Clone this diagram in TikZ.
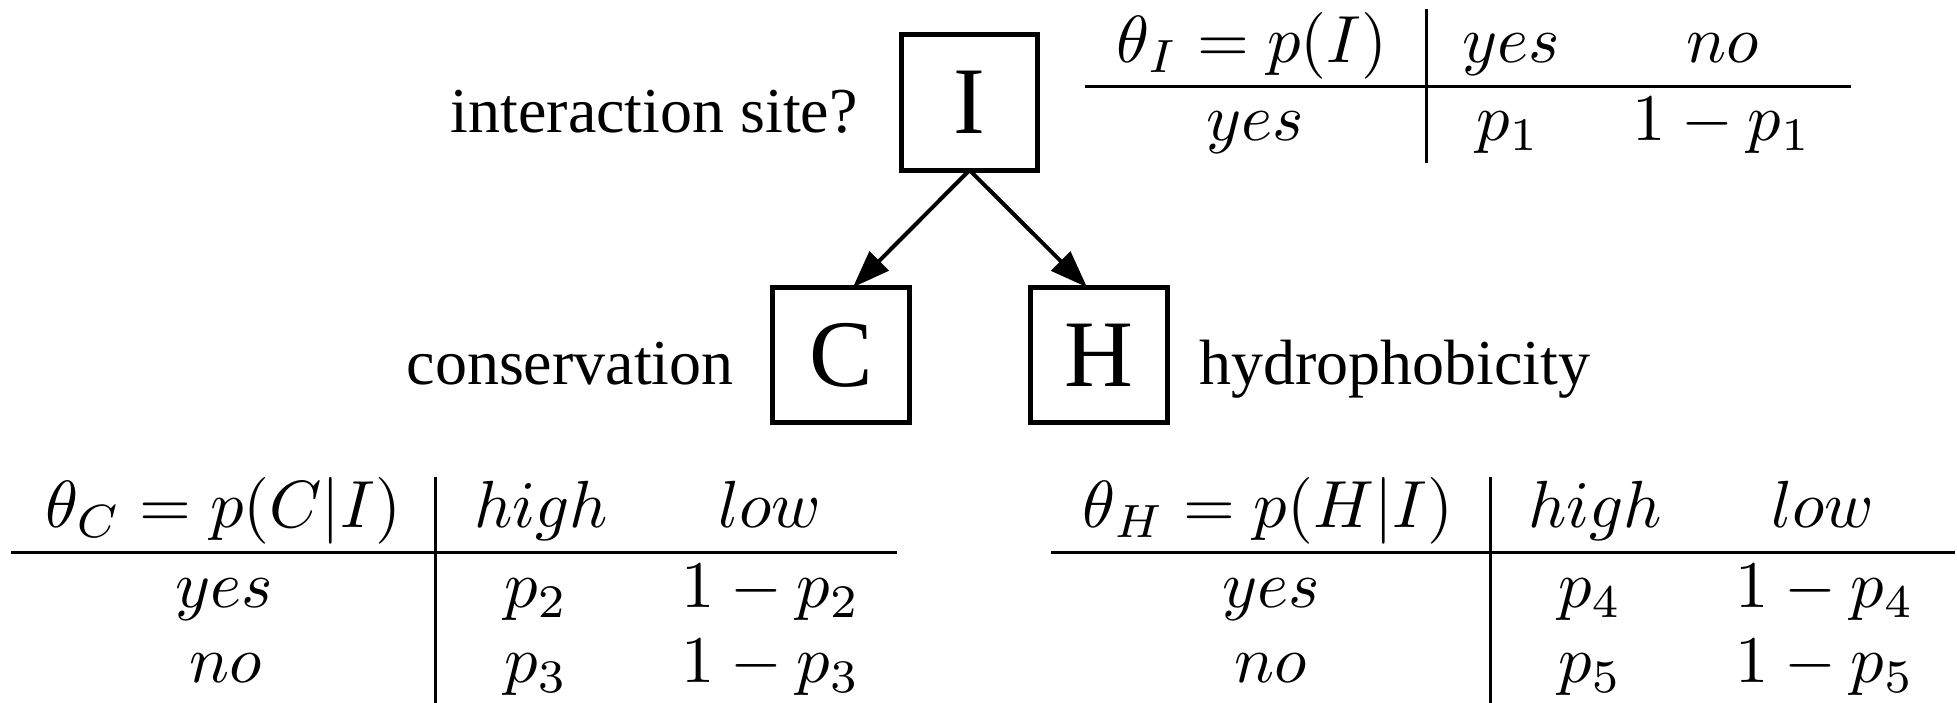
\documentclass[tikz,border=0pt]{standalone}
\usepackage[no-math]{fontspec}
\newfontfamily\timesf{Liberation Serif}
\usetikzlibrary{arrows.meta}
\begin{document}
\begin{tikzpicture}[x=0.15pt,y=-0.15pt,
  var/.style={draw, line width=0.75pt, minimum width=20.5pt, minimum height=20.3pt, inner sep=0pt, outer sep=0pt, font=\timesf\fontsize{14.3}{16}\selectfont},
  lbl/.style={inner sep=0pt, font=\timesf\fontsize{9.6}{11}\selectfont},
  cell/.style={inner sep=0pt, anchor=base, font=\fontsize{10}{12}\selectfont},
  rule/.style={line width=0.45pt},
  edge/.style={line width=0.6pt, -{Triangle[length=5.6pt,width=4pt]}}]
\useasboundingbox (0,0) rectangle (1957,703);
% network
\node[var] (I) at (969.5,102.5) {I};
\node[var] (C) at (841,355) {C};
\node[var] (H) at (1099,355) {H};
\node[lbl, anchor=base east] (lI) at (859,133) {interaction site?};
\node[lbl, anchor=base east] (lC) at (735,385) {conservation};
\node[lbl, anchor=base west] (lH) at (1198,385) {hydrophobicity};
\draw[edge] (I.south) -- (C.80);
\draw[edge] (I.south) -- (H.100);
% table for I
\coordinate (tIl) at (1085,87); \coordinate (tIr) at (1851,87);
\coordinate (tIt) at (1426,9); \coordinate (tIb) at (1426,163);
\draw[rule] (tIl) -- (tIr);
\draw[rule] (tIt) -- (tIb);
\node[cell] (tI11) at (1252,63) {$\theta_I = p(I)$};
\node[cell] (tI12) at (1511,63) {$yes$};
\node[cell] (tI13) at (1723,63) {$no$};
\node[cell] (tI21) at (1255,141) {$yes$};
\node[cell] (tI22) at (1508,141) {$p_1$};
\node[cell] (tI23) at (1722,141) {$1-p_1$};
% table for C
\coordinate (tCl) at (11,553); \coordinate (tCr) at (897,553);
\coordinate (tCt) at (435,477); \coordinate (tCb) at (435,703);
\draw[rule] (tCl) -- (tCr);
\draw[rule] (tCt) -- (tCb);
\node[cell] (tC11) at (223,528) {$\theta_C = p(C|I)$};
\node[cell] (tC12) at (541,528) {$high$};
\node[cell] (tC13) at (770,528) {$low$};
\node[cell] (tC21) at (224,608) {$yes$};
\node[cell] (tC22) at (536,608) {$p_2$};
\node[cell] (tC23) at (771,608) {$1-p_2$};
\node[cell] (tC31) at (226,683) {$no$};
\node[cell] (tC32) at (536,683) {$p_3$};
\node[cell] (tC33) at (771,683) {$1-p_3$};
% table for H
\coordinate (tHl) at (1051,553); \coordinate (tHr) at (1955,553);
\coordinate (tHt) at (1490,477); \coordinate (tHb) at (1490,703);
\draw[rule] (tHl) -- (tHr);
\draw[rule] (tHt) -- (tHb);
\node[cell] (tH11) at (1268,528) {$\theta_H = p(H|I)$};
\node[cell] (tH12) at (1595,528) {$high$};
\node[cell] (tH13) at (1823,528) {$low$};
\node[cell] (tH21) at (1271,608) {$yes$};
\node[cell] (tH22) at (1590,608) {$p_4$};
\node[cell] (tH23) at (1825,608) {$1-p_4$};
\node[cell] (tH31) at (1271,683) {$no$};
\node[cell] (tH32) at (1590,683) {$p_5$};
\node[cell] (tH33) at (1825,683) {$1-p_5$};
\end{tikzpicture}
\end{document}
